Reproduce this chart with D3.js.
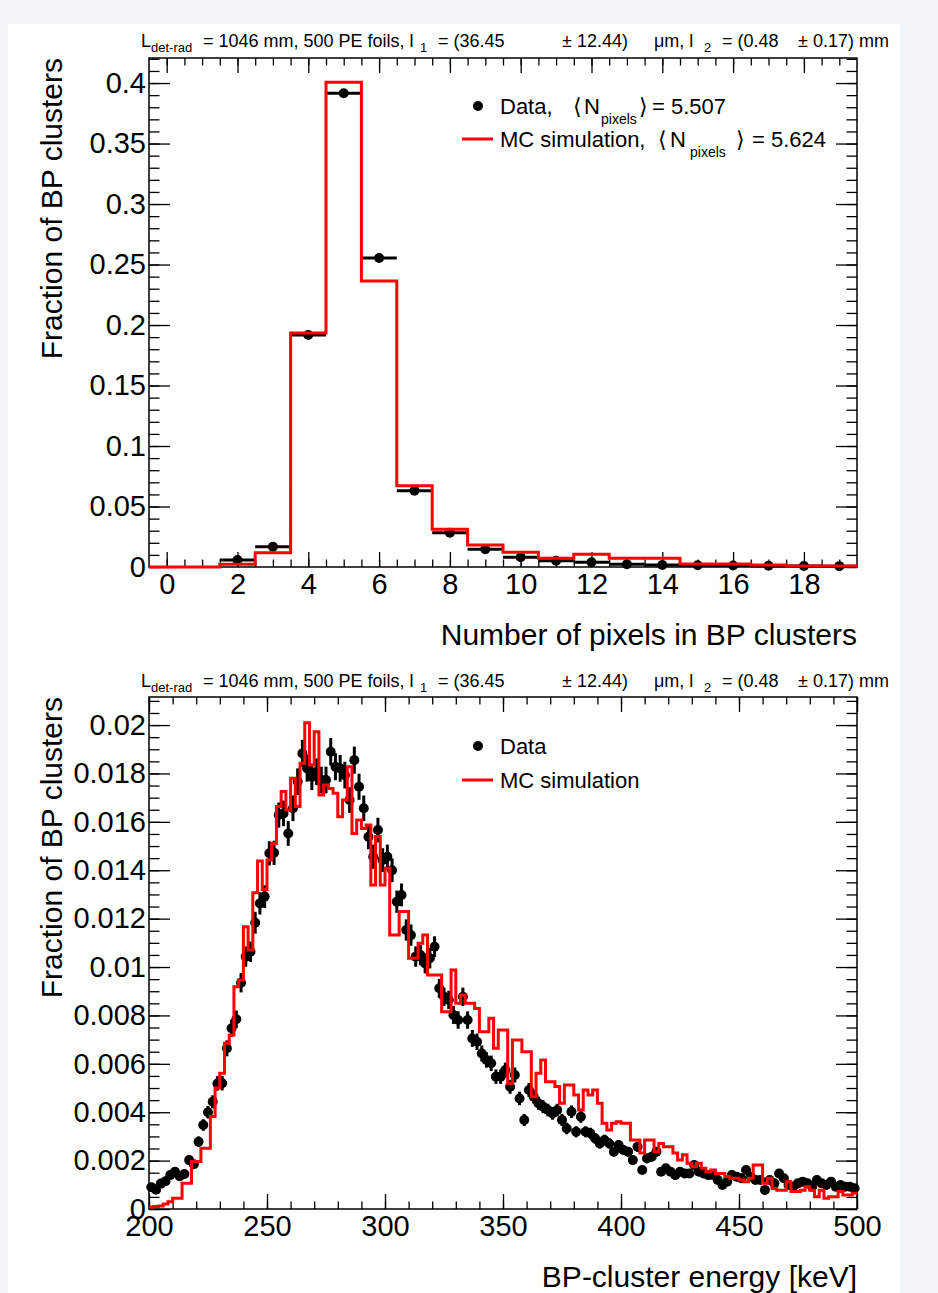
<!DOCTYPE html>
<html lang="en">
<head>
<meta charset="UTF-8">
<title>BP clusters</title>
<script src="https://cdn.jsdelivr.net/npm/d3@7/dist/d3.min.js"></script>
<style>
  body { margin: 0; background: #f4f7fb; }
  svg { display: block; }
</style>
</head>
<body>
<svg id="chart" width="938" height="1293"></svg>
<script>
// ---- number of pixels in BP clusters (bins 0..19) ----
var pixelBins = [0, 1, 2, 3, 4, 5, 6, 7, 8, 9, 10, 11, 12, 13, 14, 15, 16, 17, 18, 19];
var pixelData = [0, 0, 0.0058, 0.0167, 0.1917, 0.3915, 0.2554, 0.0631, 0.0284, 0.0146,
                 0.0080, 0.0052, 0.0039, 0.0022, 0.0017, 0.0015, 0.0013, 0.0010, 0.0008, 0.0007];
var pixelMC   = [0, 0, 0.0022, 0.0118, 0.1934, 0.4006, 0.2364, 0.0672, 0.0311, 0.0182,
                 0.0121, 0.0072, 0.0105, 0.0072, 0.0072, 0.0025, 0.0025, 0.0017, 0.0008, 0.0008];
var pixelMeanData = "5.507", pixelMeanMC = "5.624";
var pixelXTicks = [0, 2, 4, 6, 8, 10, 12, 14, 16, 18];
var pixelYTicks = [0, 0.05, 0.1, 0.15, 0.2, 0.25, 0.3, 0.35, 0.4];

// ---- BP-cluster energy, 2 keV bins from 200 keV, values in units of 1e-3 ----
var energyStart = 200, energyStep = 2;
var energyData = [
  0.90, 0.80, 1.05, 1.15, 1.40, 1.54, 1.35, 1.45, 2.02, 1.85,
  2.78, 3.47, 4.00, 4.43, 5.19, 5.20, 6.64, 7.47, 7.84, 9.35,
  10.43, 10.63, 11.83, 12.63, 12.91, 14.70, 14.72, 16.28, 16.35, 15.52,
  16.56, 17.66, 18.83, 18.21, 17.86, 18.07, 17.73, 17.73, 18.90, 18.28,
  18.21, 17.93, 16.90, 18.55, 17.45, 16.56, 15.38, 14.56, 15.66, 14.42,
  14.56, 14.00, 12.70, 12.98, 11.53, 11.32, 10.43, 10.50, 10.15, 10.36,
  10.84, 9.12, 8.77, 8.64, 8.02, 7.81, 8.77, 7.81, 7.05, 6.91,
  6.43, 6.16, 6.02, 5.47, 5.47, 5.74, 5.05, 5.54, 4.57, 3.68,
  4.92, 4.64, 4.37, 4.23, 4.09, 3.95, 4.09, 3.68, 3.33, 4.02,
  3.19, 3.81, 3.19, 3.13, 2.92, 2.71, 2.85, 2.71, 2.37, 2.64,
  2.44, 2.37, 2.02, 2.57, 1.61, 2.09, 2.16, 2.37, 1.54, 1.68,
  1.54, 1.40, 1.54, 1.47, 1.47, 1.82, 1.54, 1.47, 1.40, 1.40,
  1.20, 0.99, 1.13, 1.40, 1.33, 1.27, 1.61, 1.33, 1.20, 1.20,
  0.79, 1.20, 1.06, 1.47, 1.27, 0.99, 0.92, 1.06, 1.13, 1.06,
  0.92, 1.20, 1.06, 0.99, 1.13, 0.92, 0.99, 0.92, 0.92, 0.86
];
var energyErr = [
  0.12, 0.12, 0.13, 0.14, 0.15, 0.16, 0.15, 0.16, 0.18, 0.18,
  0.22, 0.24, 0.26, 0.27, 0.30, 0.30, 0.33, 0.36, 0.36, 0.40,
  0.42, 0.42, 0.45, 0.46, 0.47, 0.50, 0.50, 0.52, 0.53, 0.51,
  0.53, 0.55, 0.56, 0.55, 0.55, 0.55, 0.55, 0.55, 0.57, 0.56,
  0.55, 0.55, 0.53, 0.56, 0.54, 0.53, 0.51, 0.50, 0.51, 0.49,
  0.50, 0.49, 0.46, 0.47, 0.44, 0.44, 0.42, 0.42, 0.41, 0.42,
  0.43, 0.39, 0.38, 0.38, 0.37, 0.36, 0.38, 0.36, 0.35, 0.34,
  0.33, 0.32, 0.32, 0.30, 0.30, 0.31, 0.29, 0.31, 0.28, 0.25,
  0.29, 0.28, 0.27, 0.27, 0.26, 0.26, 0.26, 0.25, 0.24, 0.26,
  0.23, 0.25, 0.23, 0.23, 0.22, 0.21, 0.22, 0.21, 0.20, 0.21,
  0.20, 0.20, 0.18, 0.21, 0.16, 0.19, 0.19, 0.20, 0.16, 0.17,
  0.16, 0.15, 0.16, 0.16, 0.16, 0.18, 0.16, 0.16, 0.15, 0.15,
  0.14, 0.13, 0.14, 0.15, 0.15, 0.15, 0.16, 0.15, 0.14, 0.14,
  0.12, 0.14, 0.13, 0.16, 0.15, 0.13, 0.12, 0.13, 0.14, 0.13,
  0.12, 0.14, 0.13, 0.13, 0.14, 0.12, 0.13, 0.12, 0.12, 0.12
];
var energyMC = [
  0.08, 0.10, 0.12, 0.21, 0.30, 0.44, 0.44, 1.06, 1.06, 1.96,
  1.96, 2.51, 2.51, 3.82, 5.00, 5.61, 6.85, 7.19, 9.19, 9.46,
  11.67, 10.70, 13.07, 14.38, 13.20, 14.42, 15.11, 16.63, 17.25, 16.49,
  17.80, 16.63, 18.42, 20.10, 18.35, 19.72, 17.11, 17.52, 17.38, 17.18,
  16.21, 16.90, 18.28, 15.52, 16.08, 15.73, 15.87, 13.39, 15.39, 13.39,
  14.08, 11.32, 11.32, 12.29, 12.29, 10.36, 10.36, 10.98, 11.32, 9.67,
  9.67, 9.67, 8.15, 8.15, 9.88, 8.50, 8.84, 8.50, 8.50, 8.29,
  7.33, 7.33, 7.88, 6.64, 7.40, 7.40, 5.19, 6.98, 6.98, 6.50,
  6.50, 4.64, 5.61, 6.16, 5.26, 5.26, 5.06, 4.37, 5.12, 5.12,
  4.71, 4.09, 4.92, 4.71, 4.92, 4.37, 3.54, 3.26, 3.54, 3.61,
  3.54, 3.54, 2.85, 2.85, 2.31, 2.85, 2.85, 2.37, 2.71, 2.57,
  2.57, 2.31, 2.03, 2.24, 1.89, 1.75, 1.89, 1.68, 1.54, 1.61,
  1.47, 1.47, 1.34, 1.27, 1.27, 1.20, 1.13, 1.27, 1.82, 1.82,
  1.06, 1.27, 0.85, 0.78, 0.78, 1.13, 0.72, 0.72, 0.78, 0.92,
  0.78, 0.51, 0.78, 0.44, 0.51, 0.51, 0.72, 0.58, 0.58, 0.65
];
var energyXTicks = [200, 250, 300, 350, 400, 450, 500];
var energyYTicks = [0, 0.002, 0.004, 0.006, 0.008, 0.01, 0.012, 0.014, 0.016, 0.018, 0.02];

var FONT = '"Liberation Sans", Arial, Helvetica, sans-serif';
var RED = "#ff0000";
var X0 = 149, X1 = 857;

var svg = d3.select("#chart");
svg.append("rect").attr("width", 938).attr("height", 1293).attr("fill", "#f2f6fb");
svg.append("clipPath").attr("id", "page")
  .append("rect").attr("x", 8).attr("y", 24).attr("width", 892).attr("height", 1269);
var page = svg.append("g").attr("clip-path", "url(#page)");
page.append("rect").attr("x", 8).attr("y", 24).attr("width", 892).attr("height", 1269).attr("fill", "#fff");

function txt(g, x, y, s, size, anchor) {
  return g.append("text").attr("x", x).attr("y", y).attr("font-family", FONT)
    .attr("font-size", size).attr("text-anchor", anchor || "start").attr("fill", "#000").text(s);
}

// header line pieces: [text, x, subscript?]
function header(g, yb) {
  var parts = [
    ["L", 141, 0], ["det-rad", 151, 1], ["= 1046 mm, 500 PE foils, l", 203, 0],
    ["1", 420, 1], ["= (36.45", 438, 0], ["\u00b1 12.44)", 562, 0],
    ["\u03bcm, l", 654, 0], ["2", 704, 1], ["= (0.48", 722, 0],
    ["\u00b1 0.17) mm", 798, 0]
  ];
  parts.forEach(function(p) {
    txt(g, p[1], p[2] ? yb + 5 : yb, p[0], p[2] ? 13 : 18);
  });
}

function axes(g, x, y, o) {
  var top = y.range()[1], bot = y.range()[0];
  var defs = [
    [d3.axisBottom(x).tickValues(o.xTicks).tickSize(-15).tickPadding(6).tickFormat(String), bot, 0],
    [d3.axisBottom(x).tickValues(o.xMinor).tickSize(-7.5).tickFormat(""), bot, 0],
    [d3.axisTop(x).tickValues(o.xTicks).tickSize(-15).tickFormat(""), top, 0],
    [d3.axisTop(x).tickValues(o.xMinor).tickSize(-7.5).tickFormat(""), top, 0],
    [d3.axisLeft(y).tickValues(o.yTicks).tickSize(-21).tickPadding(3).tickFormat(String), 0, X0],
    [d3.axisLeft(y).tickValues(o.yMinor).tickSize(-10.5).tickFormat(""), 0, X0],
    [d3.axisRight(y).tickValues(o.yTicks).tickSize(-21).tickFormat(""), 0, X1],
    [d3.axisRight(y).tickValues(o.yMinor).tickSize(-10.5).tickFormat(""), 0, X1]
  ];
  defs.forEach(function(d) {
    var a = g.append("g").attr("transform", "translate(" + d[2] + "," + d[1] + ")").call(d[0]);
    a.select(".domain").remove();
    a.attr("font-family", FONT).attr("font-size", 29);
    a.selectAll("line").attr("stroke", "#000").attr("stroke-width", 1.3);
    a.selectAll("text").attr("fill", "#000");
  });
  g.append("rect").attr("x", X0).attr("y", top).attr("width", X1 - X0).attr("height", bot - top)
    .attr("fill", "none").attr("stroke", "#000").attr("stroke-width", 1.5);
}

function stepLine(x, y, lo, w, vals) {
  var pts = vals.map(function(v, i) { return [lo + i * w, v]; });
  pts.push([lo + vals.length * w, vals[vals.length - 1]]);
  return d3.line().curve(d3.curveStepAfter)
    .x(function(d) { return x(d[0]); }).y(function(d) { return y(d[1]); })(pts);
}

// ================= top panel =================
(function() {
  var g = page.append("g");
  var x = d3.scaleLinear().domain([-0.5, 19.5]).range([X0, X1]);
  var y = d3.scaleLinear().domain([0, 0.4207]).range([567, 58]);

  axes(g, x, y, {
    xTicks: pixelXTicks, xMinor: d3.range(0, 19.5, 0.5),
    yTicks: pixelYTicks, yMinor: d3.range(0, 0.421, 0.01)
  });

  var pts = pixelBins.map(function(b, i) { return { b: b, v: pixelData[i] }; })
    .filter(function(d) { return d.v > 0; });
  g.selectAll(".hbar").data(pts).enter().append("line")
    .attr("x1", function(d) { return x(d.b - 0.5); }).attr("x2", function(d) { return x(d.b + 0.5); })
    .attr("y1", function(d) { return y(d.v); }).attr("y2", function(d) { return y(d.v); })
    .attr("stroke", "#000").attr("stroke-width", 3);
  g.selectAll(".dot").data(pts).enter().append("circle")
    .attr("cx", function(d) { return x(d.b); }).attr("cy", function(d) { return y(d.v); })
    .attr("r", 5).attr("fill", "#000");

  g.append("path").attr("d", stepLine(x, y, -0.5, 1, pixelMC))
    .attr("fill", "none").attr("stroke", RED).attr("stroke-width", 3);

  header(g, 47);
  txt(g, 857, 645, "Number of pixels in BP clusters", 30, "end");
  txt(g, 0, 0, "Fraction of BP clusters", 30, "end").attr("transform", "translate(62,58) rotate(-90)");

  // legend
  g.append("circle").attr("cx", 478).attr("cy", 106).attr("r", 5).attr("fill", "#000");
  g.append("line").attr("x1", 462).attr("x2", 493).attr("y1", 139).attr("y2", 139)
    .attr("stroke", RED).attr("stroke-width", 3);
  txt(g, 500, 114, "Data,", 22);
  txt(g, 573, 114, "\u27e8", 22);
  txt(g, 584, 114, "N", 22);
  txt(g, 601, 124, "pixels", 14);
  txt(g, 639, 114, "\u27e9", 22);
  txt(g, 652, 114, "= " + pixelMeanData, 22);
  txt(g, 500, 147, "MC simulation,", 22);
  txt(g, 658, 147, "\u27e8", 22);
  txt(g, 670, 147, "N", 22);
  txt(g, 690, 157, "pixels", 14);
  txt(g, 736, 147, "\u27e9", 22);
  txt(g, 752, 147, "= " + pixelMeanMC, 22);
})();

// ================= bottom panel =================
(function() {
  var g = page.append("g");
  var x = d3.scaleLinear().domain([200, 500]).range([X0, X1]);
  var y = d3.scaleLinear().domain([0, 0.02116]).range([1209, 697]);

  axes(g, x, y, {
    xTicks: energyXTicks, xMinor: d3.range(200, 501, 10),
    yTicks: energyYTicks, yMinor: d3.range(0, 0.0212, 0.0005)
  });

  var pts = energyData.map(function(v, i) {
    return { e: energyStart + energyStep * (i + 0.5), v: v * 1e-3, err: energyErr[i] * 1e-3 };
  });
  g.selectAll(".err").data(pts).enter().append("line")
    .attr("x1", function(d) { return x(d.e); }).attr("x2", function(d) { return x(d.e); })
    .attr("y1", function(d) { return y(d.v - d.err); }).attr("y2", function(d) { return y(d.v + d.err); })
    .attr("stroke", "#000").attr("stroke-width", 3);
  g.selectAll(".dot").data(pts).enter().append("circle")
    .attr("cx", function(d) { return x(d.e); }).attr("cy", function(d) { return y(d.v); })
    .attr("r", 5).attr("fill", "#000");

  g.append("path").attr("d", stepLine(x, y, energyStart, energyStep, energyMC.map(function(v) { return v * 1e-3; })))
    .attr("fill", "none").attr("stroke", RED).attr("stroke-width", 3);

  header(g, 687);
  txt(g, 857, 1287, "BP-cluster energy [keV]", 30, "end");
  txt(g, 0, 0, "Fraction of BP clusters", 30, "end").attr("transform", "translate(62,697) rotate(-90)");

  g.append("circle").attr("cx", 478).attr("cy", 746).attr("r", 5).attr("fill", "#000");
  g.append("line").attr("x1", 462).attr("x2", 493).attr("y1", 780).attr("y2", 780)
    .attr("stroke", RED).attr("stroke-width", 3);
  txt(g, 500, 754, "Data", 22);
  txt(g, 500, 788, "MC simulation", 22);
})();
</script>
</body>
</html>
